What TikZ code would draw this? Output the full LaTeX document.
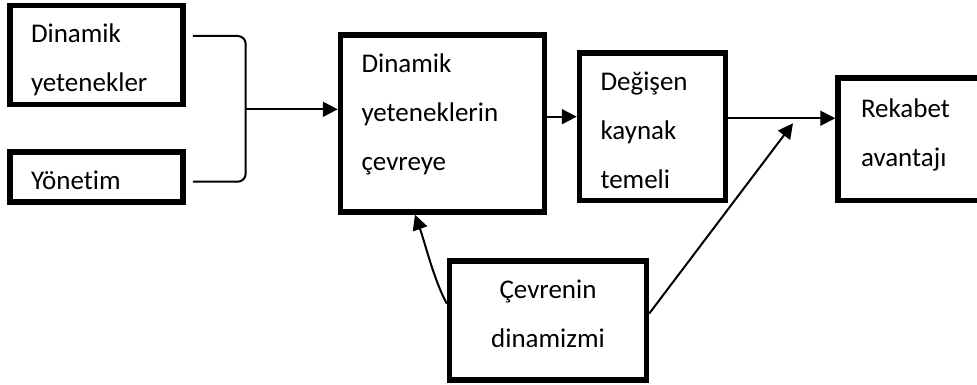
\documentclass[tikz,border=0pt]{standalone}
\usepackage{fontspec}
\setmainfont{Carlito}[Ligatures=NoCommon]
\usetikzlibrary{arrows.meta}
\tikzset{
  kutu/.style={draw=black,line width=5.5pt,align=left,inner xsep=21pt,inner ysep=0pt,text height=37.25pt,font=\fontsize{27}{49}\selectfont},
  ok/.style={-{Triangle[length=15pt,width=15pt]},line width=2pt},
  hat/.style={line width=2pt},
}
\begin{document}
\begin{tikzpicture}[x=1pt,y=-1pt]
  \useasboundingbox (0,0) rectangle (977,385);
  \clip (0,0) rectangle (977,385);
  \node[kutu,text depth=61.75pt,text width=131pt] (dyn) at (96.5,55) {Dinamik\\yetenekler};
  \node[kutu,text depth=12.75pt,text width=131pt] (yon) at (96.5,177) {Yönetim};
  \node[kutu,text depth=139.75pt,text width=162pt] (cev) at (442.5,123.5) {Dinamik\\yeteneklerin\\çevreye};
  \node[kutu,text depth=110.25pt,text width=104pt] (kay) at (652.5,126.75) {Değişen\\kaynak\\temeli};
  \node[kutu,text height=40pt,text depth=82.5pt,text width=115pt,inner xsep=23pt] (rek) at (918.5,139.25) {Rekabet\\avantajı};
  \node[kutu,align=center,text depth=81.75pt,text width=155pt] (din) at (548,320.5) {Çevrenin\\dinamizmi};
  \coordinate (birles) at (245.7,109.3);
  \coordinate (bulus) at (793,123.3);
  \coordinate (c1) at ([yshift=6.8pt]cev.east);
  \coordinate (k1) at ([yshift=8.5pt]kay.east);
  \draw[hat,rounded corners=8pt] ([xshift=7pt,yshift=19pt]dyn.east) -| (birles) |- ([xshift=7pt,yshift=-4.7pt]yon.east);
  \draw[ok] (birles) -- (birles -| cev.west);
  \draw[ok] (c1) -- (c1 -| kay.west);
  \draw[ok] (k1) -- (k1 -| rek.west);
  \draw[ok] ([yshift=7pt]din.east) -- (bulus);
  \draw[ok] ([yshift=17pt]din.west) .. controls +(-12.7,-23) and +(10,28) .. ([xshift=-27.5pt]cev.south);
\end{tikzpicture}
\end{document}
